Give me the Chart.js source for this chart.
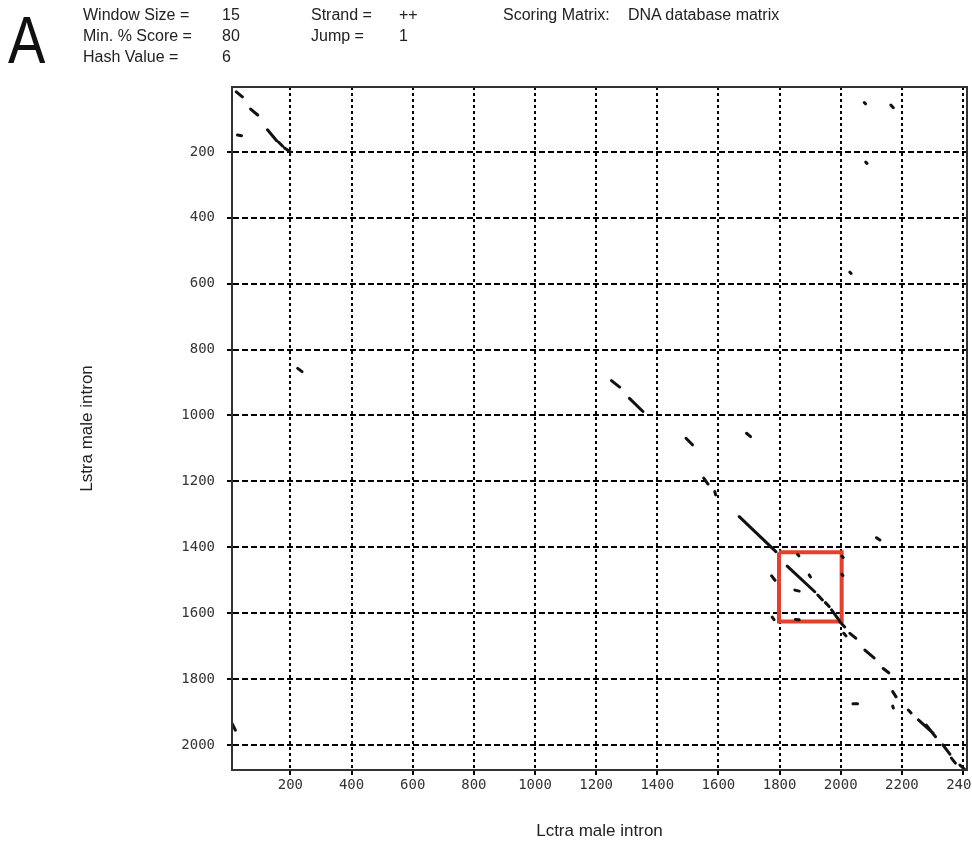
<!DOCTYPE html>
<html>
<head>
<meta charset="utf-8">
<script src="https://cdn.jsdelivr.net/npm/chart.js@4"></script>
<style>
  body { margin: 0; background: #fff; }
  #wrap { position: relative; width: 972px; height: 847px; overflow: hidden; }
  #dotplot { position: absolute; left: 0; top: 0; }
  .hdr { position: absolute; font-family: "Liberation Sans", Arial, sans-serif; font-size: 16px; color: #222; white-space: nowrap; line-height: 20px; }
  #panel { position: absolute; left: 8px; top: 2px; font-family: "Liberation Sans", Arial, sans-serif; font-size: 66px; line-height: 76px; color: #111; transform: scaleX(0.85); transform-origin: left top; }
</style>
</head>
<body>
<div id="wrap">
  <canvas id="dotplot" width="972" height="847"></canvas>
  <div id="panel">A</div>
  <div class="hdr" style="left:83px;top:5px">Window Size =</div>
  <div class="hdr" style="left:222px;top:5px">15</div>
  <div class="hdr" style="left:311px;top:5px">Strand =</div>
  <div class="hdr" style="left:399px;top:5px">++</div>
  <div class="hdr" style="left:503px;top:5px">Scoring Matrix:</div>
  <div class="hdr" style="left:628px;top:5px">DNA database matrix</div>
  <div class="hdr" style="left:83px;top:26px">Min. % Score =</div>
  <div class="hdr" style="left:222px;top:26px">80</div>
  <div class="hdr" style="left:311px;top:26px">Jump =</div>
  <div class="hdr" style="left:399px;top:26px">1</div>
  <div class="hdr" style="left:83px;top:47px">Hash Value =</div>
  <div class="hdr" style="left:222px;top:47px">6</div>
</div>
<script>
// sequence ranges (bases)
const xRange = [9, 2413];
const yRange = [3, 2076];
const xTicks = [200, 400, 600, 800, 1000, 1200, 1400, 1600, 1800, 2000, 2200, 2400];
const yTicks = [200, 400, 600, 800, 1000, 1200, 1400, 1600, 1800, 2000];

// hits as [x1, y1, x2, y2]
const topLeftHits = [
  [23, 18, 43, 33],
  [70, 70, 93, 88],
  [125, 133, 155, 166],
  [161, 170, 174, 182],
  [181, 188, 200, 200],
  [27, 149, 40, 151]
];

const midHits = [
  [1250, 894, 1277, 914],
  [1309, 948, 1353, 988],
  [1494, 1069, 1515, 1089],
  [1692, 1054, 1705, 1064],
  [1552, 1190, 1566, 1208],
  [1588, 1231, 1591, 1241]
];

const mainDiagonalHits = [
  [1668, 1307, 1788, 1413],
  [1825, 1457, 1915, 1535],
  [1925, 1545, 1940, 1560],
  [1950, 1568, 1962, 1580],
  [1970, 1590, 1995, 1622],
  [1997, 1626, 2013, 1642],
  [2010, 1661, 2017, 1669],
  [2030, 1661, 2049, 1676],
  [2079, 1712, 2109, 1736],
  [2139, 1768, 2157, 1781],
  [2170, 1838, 2181, 1854],
  [2221, 1894, 2230, 1903],
  [2254, 1924, 2302, 1964],
  [2280, 1940, 2310, 1975],
  [2334, 2000, 2357, 2028],
  [2362, 2040, 2375, 2055],
  [2390, 2061, 2408, 2076]
];

const strayHits = [
  [224, 857, 238, 867],
  [10, 1936, 20, 1955],
  [2077, 50, 2081, 54],
  [2164, 58, 2172, 66],
  [2082, 231, 2086, 235],
  [2030, 565, 2034, 569],
  [2117, 1371, 2128, 1378],
  [1774, 1487, 1785, 1500],
  [1859, 1422, 1863, 1426],
  [1897, 1484, 1901, 1490],
  [1850, 1530, 1864, 1533],
  [2004, 1427, 2008, 1431],
  [2004, 1482, 2007, 1486],
  [1776, 1612, 1782, 1620],
  [1852, 1619, 1864, 1620],
  [2170, 1882, 2172, 1888],
  [2040, 1875, 2055, 1875]
];

// highlighted region
const boxX = [1798, 2003];
const boxY = [1415, 1625];

function toPoints(segs) {
  const pts = [];
  segs.forEach(s => {
    pts.push({ x: s[0], y: s[1] });
    pts.push({ x: s[2], y: s[3] });
    pts.push({ x: s[2], y: null });
  });
  return pts;
}

const boxPoints = [
  { x: boxX[0], y: boxY[0] }, { x: boxX[1], y: boxY[0] },
  { x: boxX[1], y: boxY[1] }, { x: boxX[0], y: boxY[1] },
  { x: boxX[0], y: boxY[0] }
];

const hitStyle = {
  showLine: true, spanGaps: false, pointRadius: 0, pointHoverRadius: 0,
  borderColor: "#111", borderWidth: 3, borderCapStyle: "round"
};

const framePlugin = {
  id: "frame",
  afterDraw(chart) {
    const { ctx, chartArea: a } = chart;
    ctx.save();
    ctx.strokeStyle = "#333";
    ctx.lineWidth = 2;
    ctx.strokeRect(a.left, a.top, a.right - a.left, a.bottom - a.top);
    ctx.restore();
  }
};

const tickFont = { family: "'DejaVu Sans Mono', monospace", size: 14 };
const titleFont = { family: "'Liberation Sans', Arial, sans-serif", size: 17 };

new Chart(document.getElementById("dotplot").getContext("2d"), {
  type: "scatter",
  data: {
    datasets: [
      Object.assign({ label: "hits", data: toPoints(topLeftHits.concat(midHits, mainDiagonalHits, strayHits)) }, hitStyle),
      {
        label: "region", data: boxPoints, showLine: true, pointRadius: 0,
        borderColor: "#e5402b", borderWidth: 4, borderJoinStyle: "miter"
      }
    ]
  },
  options: {
    responsive: false,
    animation: false,
    layout: { padding: { top: 87, right: 5, bottom: 0, left: 0 } },
    plugins: { legend: { display: false }, tooltip: { enabled: false } },
    scales: {
      x: {
        type: "linear", position: "bottom",
        min: xRange[0], max: xRange[1],
        afterBuildTicks: s => { s.ticks = xTicks.map(v => ({ value: v })); },
        afterFit: s => { s.height = 77; s.paddingLeft = 0; s.paddingRight = 0; },
        ticks: { autoSkip: false, font: tickFont, color: "#333", padding: 2, maxRotation: 0, minRotation: 0, callback: v => String(v) },
        grid: { color: "#000", lineWidth: 2, tickLength: 5, tickColor: "#000", tickWidth: 2 },
        border: { color: "#333", width: 2, dash: [3, 3] },
        title: { display: true, text: "Lctra male intron", color: "#222", font: titleFont, padding: { top: 0, bottom: 5 } }
      },
      y: {
        type: "linear", position: "left", reverse: true,
        min: yRange[0], max: yRange[1],
        afterBuildTicks: s => { s.ticks = yTicks.map(v => ({ value: v })); },
        afterFit: s => { s.width = 232; s.paddingTop = 0; s.paddingBottom = 0; },
        ticks: { autoSkip: false, font: tickFont, color: "#333", padding: 12, callback: v => String(v) },
        grid: { color: "#000", lineWidth: 2, tickLength: 5, tickColor: "#000", tickWidth: 2 },
        border: { color: "#333", width: 2, dash: [6, 3] },
        title: { display: true, text: "Lstra male intron", color: "#222", font: titleFont, padding: { top: 77, bottom: 0 } }
      }
    }
  },
  plugins: [framePlugin]
});
</script>
</body>
</html>
